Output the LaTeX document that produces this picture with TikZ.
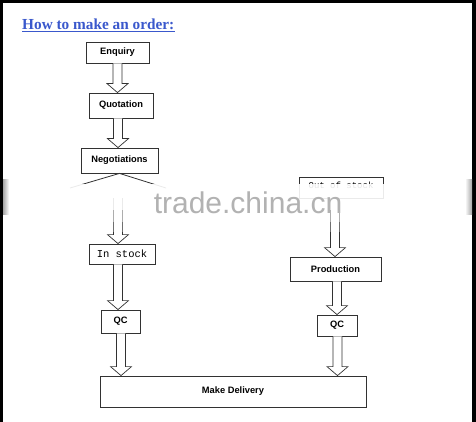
\documentclass[tikz,border=0pt]{standalone}
\usepackage{fontspec}
\setmainfont{Liberation Serif}
\setsansfont{Liberation Sans}
\setmonofont{Liberation Mono}
\usetikzlibrary{calc}
\definecolor{titleblue}{RGB}{58,88,204}
\definecolor{boxline}{RGB}{50,50,50}
\tikzset{
    stepbox/.style={rectangle, draw=boxline, line width=0.8pt, fill=white, inner sep=0pt, text centered, font=\sffamily\bfseries\fontsize{9.3}{11}\selectfont},
    monobox/.style={stepbox, font=\ttfamily\fontsize{10.5}{12}\selectfont},
    hollow/.style={draw=boxline, line width=0.7pt, fill=white, line join=miter},
    branch/.style={draw=boxline, line width=0.8pt},
}
% hollow block arrow: [x shift]{from}{to}
\newcommand\flowarrow[3][0]{%
  \path[hollow] let \p1=(#2), \p2=(#3), \n1={\x1+(#1)*1pt} in
    ({\n1-4.5pt},\y1) -- ({\n1-4.5pt},{\y2+9pt}) -- ({\n1-10.5pt},{\y2+9pt})
    -- (\n1,\y2) -- ({\n1+10.5pt},{\y2+9pt}) -- ({\n1+4.5pt},{\y2+9pt})
    -- ({\n1+4.5pt},\y1);}

\begin{document}
\begin{tikzpicture}[x=1pt, y=-1pt]
    \useasboundingbox (0,0) rectangle (476,422);
    \fill[white] (0,0) rectangle (476,422);
    \fill[black] (0,0) rectangle (476,3);
    \fill[black] (0,0) rectangle (3,422);
    \fill[black] (472,0) rectangle (476,422);

    \node[anchor=west, text=titleblue, font=\bfseries\fontsize{15.3}{17}\selectfont, inner sep=0pt] (title) at (22,24) {How to make an order:};
    \draw[titleblue, line width=0.9pt] ([yshift=-2pt]title.south west) -- ([yshift=-2pt]title.south east);

    \node[stepbox, minimum width=63pt, minimum height=21pt] (enq) at (117.5,52.5) {Enquiry};
    \node[stepbox, minimum width=64pt, minimum height=25pt] (quo) at (121,105.5) {Quotation};
    \node[stepbox, minimum width=77pt, minimum height=25pt] (neg) at (119.5,160.5) {Negotiations};
    \node[monobox, font=\ttfamily\fontsize{9}{10}\selectfont, text height=6pt, text depth=5pt, minimum width=84pt, minimum height=21pt] (out) at (341,187.5) {Out of stock};
    \node[monobox, minimum width=66pt, minimum height=20pt] (instock) at (122,254) {In stock};
    \node[stepbox, minimum width=39pt, minimum height=23pt] (qcl) at (120.5,321.5) {QC};
    \node[stepbox, minimum width=91pt, minimum height=24pt] (prod) at (335.5,269) {Production};
    \node[stepbox, minimum width=40pt, minimum height=21pt] (qcr) at (337,325.5) {QC};
    \node[stepbox, minimum width=266pt, minimum height=31pt] (deliv) at (233,391.5) {Make Delivery};

    \coordinate (brL) at (70,188);
    \coordinate (brR) at (166,188);
    \coordinate (stockin) at (118,198);
    \draw[branch] (brL) -- (neg.south) -- (brR);

    \flowarrow{enq.south}{quo.north}
    \flowarrow[-3]{quo.south}{neg.north}
    \flowarrow{stockin}{instock.north}
    \flowarrow[-4]{instock.south}{qcl.north}
    \flowarrow[0.5]{qcl.south}{deliv.north}
    \flowarrow[-6]{out.south}{prod.north}
    \flowarrow[1.5]{prod.south}{qcr.north}
    \flowarrow[0.5]{qcr.south}{deliv.north}

    % blurred band over the branch
    \fill[white, opacity=0.9] (3,184) rectangle (472,210);
    \fill[white, opacity=0.6] (3,210) rectangle (472,222);
    \fill[white, opacity=0.3] (3,222) rectangle (472,232);
    \shade[left color=gray!70, right color=white] (3,180) rectangle (9,214);
    \shade[left color=white, right color=gray!70] (465,180) rectangle (472,214);

    \node[anchor=base, text=gray!60, font=\sffamily\fontsize{30}{34}\selectfont, inner sep=0pt] (mark) at (248,213) {trade.china.cn};
\end{tikzpicture}
\end{document}
